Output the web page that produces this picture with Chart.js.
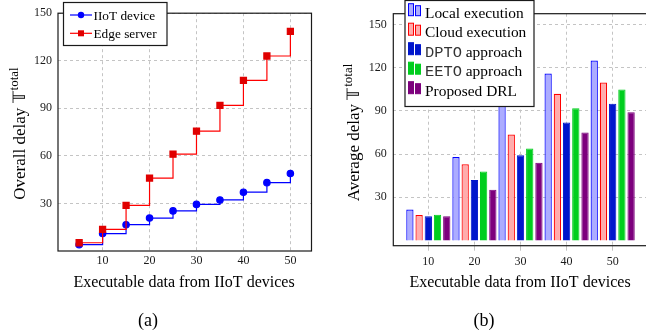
<!DOCTYPE html>
<html>
<head>
<meta charset="utf-8">
<script src="https://cdn.jsdelivr.net/npm/chart.js@4.4.0/dist/chart.umd.min.js"></script>
<style>
  body { margin: 0; width: 646px; height: 334px; overflow: hidden; background: #fff; position: relative; }
  canvas { position: absolute; top: 0; }
  #chartA { left: 0; }
  #chartB { left: 325px; }
</style>
</head>
<body>
<canvas id="chartA" width="325" height="334"></canvas>
<canvas id="chartB" width="330" height="334"></canvas>
<script>
// (a) overall delay, step plot
const dataSizes = [5, 10, 15, 20, 25, 30, 35, 40, 45, 50];
const iiotDelay = [4.0, 11.0, 16.6, 20.8, 25.3, 29.4, 32.2, 37.1, 43.1, 48.9];
const edgeDelay = [5.2, 13.6, 28.8, 46.0, 61.1, 75.6, 91.8, 107.6, 123.0, 138.5];
const xTicksA = [10, 20, 30, 40, 50];
const yTicks = [30, 60, 90, 120, 150];

// (b) average delay, grouped bars
const groups = [10, 20, 30, 40, 50];
const groupEdges = [5, 15, 25, 35, 45, 55];
const localExec = [21.5, 58.0, 100.0, 116.1, 125.1];
const cloudExec = [17.7, 53.0, 73.7, 102.0, 109.8];
const dptoDelay = [16.8, 42.1, 59.2, 82.0, 95.0];
const eetoDelay = [17.9, 47.9, 63.9, 91.9, 104.9];
const drlDelay = [16.8, 35.2, 54.0, 75.1, 89.2];

const SERIF = '"Liberation Serif", "Times New Roman", serif';
const MONO = '"Liberation Mono", "DejaVu Sans Mono", monospace';
const GRID = '#c4c4c4';
const DBL_T = '\u{1D54B}';

Chart.defaults.font.family = SERIF;
Chart.defaults.color = '#1a1a1a';

let pts = (xs, ys) => xs.map((x, i) => ({ x: x, y: ys[i] }));

function drawLegend(chart, L) {
  const ctx = chart.ctx;
  ctx.save();
  ctx.fillStyle = '#fff';
  ctx.strokeStyle = '#1a1a1a';
  ctx.lineWidth = 1.2;
  ctx.fillRect(L.x, L.y, L.w, L.h);
  ctx.strokeRect(L.x, L.y, L.w, L.h);
  ctx.textBaseline = 'alphabetic';
  ctx.textAlign = 'left';
  chart.data.datasets.forEach((ds, i) => {
    const b = L.first + i * L.step;
    if (L.kind === 'line') {
      const cy = b - 4.5;
      ctx.strokeStyle = ds.borderColor;
      ctx.lineWidth = 1.2;
      ctx.beginPath();
      ctx.moveTo(L.x + 6.5, cy);
      ctx.lineTo(L.x + 28.5, cy);
      ctx.stroke();
      ctx.fillStyle = ds.pointBackgroundColor;
      const mx = L.x + 17.5;
      if (ds.pointStyle === 'rect') {
        ctx.fillRect(mx - 3, cy - 3, 6, 6);
      } else {
        ctx.beginPath();
        ctx.arc(mx, cy, 3.2, 0, Math.PI * 2);
        ctx.fill();
      }
    } else {
      ctx.fillStyle = ds.backgroundColor;
      ctx.strokeStyle = ds.borderColor;
      ctx.lineWidth = 1;
      ctx.fillRect(L.x + 3.5, b - 14, 5, 12);
      ctx.strokeRect(L.x + 3.5, b - 14, 5, 12);
      ctx.fillRect(L.x + 10.5, b - 12, 5, 10);
      ctx.strokeRect(L.x + 10.5, b - 12, 5, 10);
    }
    ctx.fillStyle = '#000';
    let tx = L.x + L.textX;
    const m = ds.label.match(/^([A-Z]{4}) (.*)$/);
    if (m) {
      ctx.font = L.size + 'px ' + MONO;
      ctx.fillStyle = '#333';
      ctx.fillText(m[1], tx, b);
      tx += ctx.measureText(m[1]).width;
      ctx.font = L.size + 'px ' + SERIF;
      tx += ctx.measureText(' ').width;
      ctx.fillStyle = '#000';
      ctx.fillText(m[2], tx, b);
    } else {
      ctx.font = L.size + 'px ' + SERIF;
      ctx.fillText(ds.label, tx, b);
    }
  });
  ctx.restore();
}

const decor = {
  id: 'decor',
  afterDatasetsDraw(chart, args, o) {
    const ctx = chart.ctx, a = chart.chartArea;
    ctx.save();
    ctx.strokeStyle = '#1a1a1a';
    ctx.lineWidth = 1.2;
    ctx.strokeRect(a.left, a.top, a.right - a.left, a.bottom - a.top);

    ctx.fillStyle = '#000';
    ctx.textAlign = 'center';
    ctx.textBaseline = 'middle';
    ctx.font = '16px ' + SERIF;
    ctx.fillText(o.xTitle, o.xTitleAt[0], o.xTitleAt[1]);
    ctx.font = '18px ' + SERIF;
    ctx.fillText(o.caption, o.captionAt[0], o.captionAt[1]);

    // y title: "... T^total", rotated
    ctx.translate(o.yTitleAt[0], o.yTitleAt[1]);
    ctx.rotate(-Math.PI / 2);
    ctx.textAlign = 'left';
    ctx.textBaseline = 'alphabetic';
    const main = o.yTitle + ' ' + DBL_T;
    ctx.font = '17px ' + SERIF;
    const w1 = ctx.measureText(main).width;
    ctx.font = '13px ' + SERIF;
    const w2 = ctx.measureText('total').width;
    const x0 = -(w1 + w2 + 1) / 2;
    ctx.font = '17px ' + SERIF;
    ctx.fillText(main, x0, 0);
    ctx.font = '13px ' + SERIF;
    ctx.fillText('total', x0 + w1 + 1, -7);
    ctx.restore();

    drawLegend(chart, o.legend);
  }
};

let setTicks = (list) => (scale) => { scale.ticks = list.map(v => ({ value: v })); };

// ---- chart (a)
new Chart(document.getElementById('chartA'), {
  type: 'line',
  data: {
    datasets: [{
      label: 'IIoT device',
      data: pts(dataSizes, iiotDelay),
      borderColor: '#0000ff',
      pointBackgroundColor: '#0000ff',
      pointBorderColor: '#0000ff',
      pointStyle: 'circle',
      pointRadius: 3.2,
      borderWidth: 1.2,
      stepped: true,
      order: 1
    }, {
      label: 'Edge server',
      data: pts(dataSizes, edgeDelay),
      borderColor: '#ff0000',
      pointBackgroundColor: '#e00000',
      pointBorderColor: '#e00000',
      pointStyle: 'rect',
      pointRadius: 4.3,
      borderWidth: 1.2,
      stepped: true,
      order: 0
    }]
  },
  options: {
    responsive: false,
    animation: false,
    devicePixelRatio: 1,
    layout: { padding: { left: 0, top: 8, right: 13.5, bottom: 0 } },
    plugins: {
      legend: { display: false },
      tooltip: { enabled: false },
      decor: {
        xTitle: 'Executable data from IIoT devices',
        xTitleAt: [184, 283],
        caption: '(a)',
        captionAt: [148, 321],
        yTitle: 'Overall delay',
        yTitleAt: [24.5, 133.5],
        legend: { kind: 'line', x: 63.5, y: 2.5, w: 103.5, h: 43, first: 19.5, step: 18.3, textX: 30, size: 13.3 }
      }
    },
    scales: {
      x: {
        type: 'linear', min: 0.5, max: 54.5,
        afterBuildTicks: setTicks(xTicksA),
        afterFit: (s) => { s.height = 83; },
        grid: { color: GRID, lineWidth: 1, drawTicks: false },
        border: { display: false, dash: [3, 3] },
        ticks: { padding: 3, font: { size: 12 }, autoSkip: false, maxRotation: 0 }
      },
      y: {
        type: 'linear', min: 0, max: 150,
        afterBuildTicks: setTicks(yTicks),
        afterFit: (s) => { s.width = 58; },
        grid: { color: GRID, lineWidth: 1, drawTicks: false },
        border: { display: false, dash: [3, 3] },
        ticks: { padding: 6, font: { size: 12 } }
      }
    }
  },
  plugins: [decor]
});

// ---- chart (b)
let barSet = (label, vals, fill, line, bw) => ({
  label: label, data: pts(groups, vals), xAxisID: 'x', yAxisID: 'y',
  backgroundColor: fill, borderColor: line, borderWidth: bw
});

new Chart(document.getElementById('chartB'), {
  type: 'bar',
  data: {
    datasets: [
      barSet('Local execution', localExec, 'rgb(172,172,255)', '#0000ff', 1.2),
      barSet('Cloud execution', cloudExec, 'rgb(255,172,172)', '#ff0000', 1.2),
      barSet('DPTO approach', dptoDelay, 'rgb(0,22,204)', 'rgb(0,22,204)', 1),
      barSet('EETO approach', eetoDelay, 'rgb(0,206,30)', 'rgb(0,206,30)', 1),
      barSet('Proposed DRL', drlDelay, 'rgb(125,0,125)', 'rgb(125,0,125)', 1)
    ]
  },
  options: {
    responsive: false,
    animation: false,
    devicePixelRatio: 1,
    layout: { padding: { left: 0, top: 6, right: 7.3, bottom: 0 } },
    datasets: { bar: { categoryPercentage: 1.0, barPercentage: 0.79 } },
    plugins: {
      legend: { display: false },
      tooltip: { enabled: false },
      decor: {
        xTitle: 'Executable data from IIoT devices',
        xTitleAt: [195, 283],
        caption: '(b)',
        captionAt: [159, 321],
        yTitle: 'Average delay',
        yTitleAt: [34, 132.5],
        legend: { kind: 'bar', x: 80, y: 0.5, w: 129, h: 106, first: 17.7, step: 19.5, textX: 20, size: 15.4 }
      }
    },
    scales: {
      x: {
        type: 'linear', position: 'bottom', min: 2.4, max: 57.6, offset: false,
        afterBuildTicks: setTicks(groups),
        afterFit: (s) => { s.height = 88.3; },
        grid: { display: false, drawTicks: false },
        border: { display: false },
        ticks: { padding: 9, font: { size: 12 }, autoSkip: false, maxRotation: 0 }
      },
      y: {
        type: 'linear', min: -3.6, max: 157.6,
        afterBuildTicks: setTicks(yTicks),
        afterFit: (s) => { s.width = 68.3; },
        grid: { color: GRID, lineWidth: 1, drawTicks: false },
        border: { display: false, dash: [3, 3] },
        ticks: { padding: 6.5, font: { size: 12 } }
      },
      xEdges: {
        type: 'linear', axis: 'x', position: 'bottom', weight: -1, min: 2.4, max: 57.6, offset: false,
        afterBuildTicks: setTicks(groupEdges),
        afterFit: (s) => { s.height = 0; },
        grid: { color: GRID, lineWidth: 1, drawTicks: true, tickLength: 5 },
        border: { display: false, dash: [3, 3] },
        ticks: { display: false }
      }
    }
  },
  plugins: [decor]
});
</script>
</body>
</html>
